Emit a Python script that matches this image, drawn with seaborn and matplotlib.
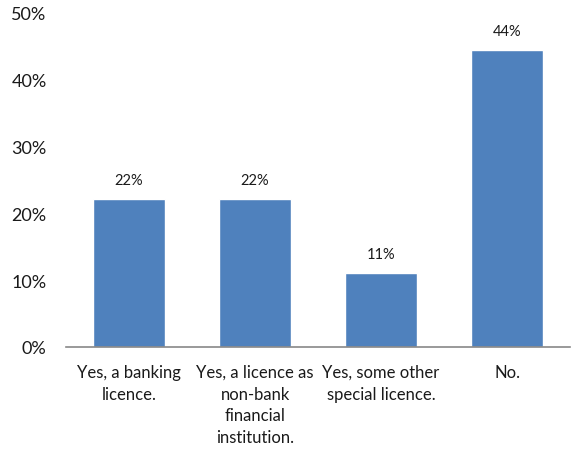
import numpy as np
import pandas as pd
import matplotlib
matplotlib.use("Agg")
import matplotlib.pyplot as plt
import seaborn as sns

categories = [
    "Yes, a banking\nlicence.",
    "Yes, a licence as\nnon-bank\nfinancial\ninstitution.",
    "Yes, some other\nspecial licence.",
    "No.",
]
shares = [22.2, 22.2, 11.1, 44.4]
bar_labels = ["22%", "22%", "11%", "44%"]

df = pd.DataFrame({"category": categories, "share": shares})

sns.set_style("white")
plt.rcParams["font.family"] = ["Lato", "DejaVu Sans"]

fig = plt.figure(figsize=(5.71, 4.52), dpi=100)
ax = fig.add_axes([66 / 571, 1 - 348 / 452, 504 / 571, 334 / 452])

sns.barplot(data=df, x="category", y="share", color="#4F81BD",
            saturation=1, width=0.57, ax=ax)

for i, (v, lab) in enumerate(zip(shares, bar_labels)):
    ax.text(i, v + 1.8, lab, ha="center", va="bottom", fontsize=10.5, color="#1a1a1a")

ax.set_xlim(-0.5, 3.5)
ax.set_ylim(0, 50)
ax.set_yticks(np.arange(0, 51, 10))
ax.set_yticklabels([f"{t}%" for t in range(0, 51, 10)], fontsize=13, color="#1a1a1a")
ax.tick_params(axis="y", length=0, pad=14)
ax.tick_params(axis="x", length=0, pad=12)
for t in ax.get_xticklabels():
    t.set_fontsize(12)
    t.set_linespacing(1.45)
    t.set_color("#1a1a1a")
ax.set_xlabel("")
ax.set_ylabel("")

for s in ["top", "right", "left"]:
    ax.spines[s].set_visible(False)
ax.spines["bottom"].set_color("#888888")
ax.spines["bottom"].set_linewidth(1.2)

fig.savefig("out.png", dpi=100)
